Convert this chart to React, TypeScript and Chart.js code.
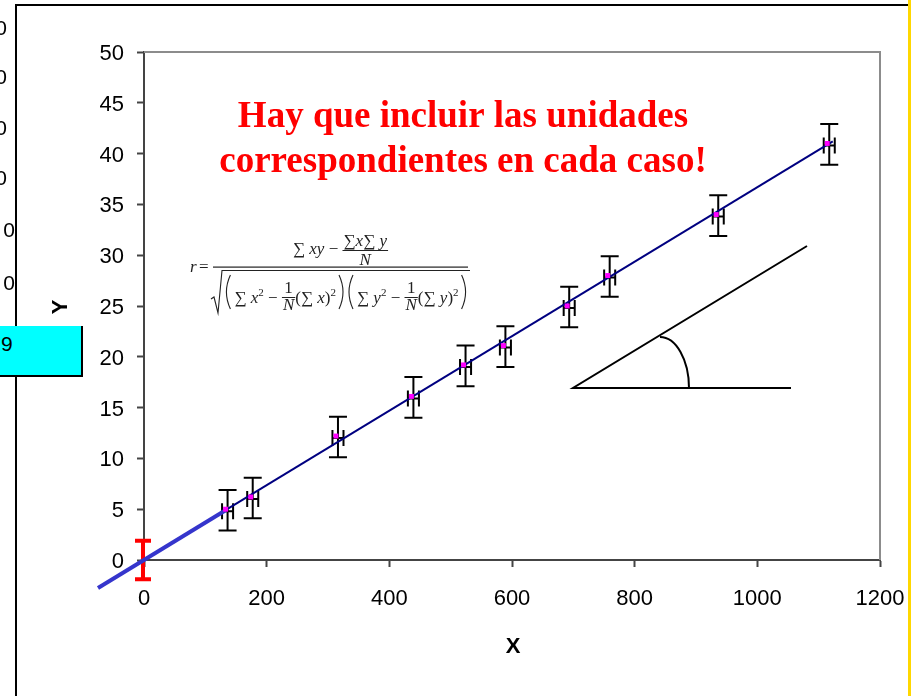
import React, { useEffect, useRef } from 'react';
import { Chart, registerables } from 'chart.js';

Chart.register(...registerables);

// ---- data ----
const xValues = [133, 174, 313, 436, 521, 586, 690, 756, 933, 1114];
const yValues = [5.0, 6.2, 12.2, 16.1, 19.2, 21.1, 25.0, 28.0, 34.0, 41.0];
const xErrors = [9, 9, 9, 9, 9, 9, 9, 9, 9, 9];
const yErrors = [2, 2, 2, 2, 2, 2, 2, 2, 2, 2];
const fitX = [133, 1123];
const fitY = [4.9, 41.2];
const extX = [-75, 133];
const extY = [-2.75, 4.9];
const originX = [0];
const originY = [0];
const originErr = [1.9];
const xMin = 0, xMax = 1200, xStep = 200;
const yMin = 0, yMax = 50, yStep = 5;
const titleLines = ['Hay que incluir las unidades', 'correspondientes en cada caso!'];
const xTitle = 'X';
const yTitle = 'Y';
const cellTexts = ['0', '0', '0', '0', '0', '0'];
const cellHighlight = '9';

// ---- layout constants ----
const W = 911, H = 696;
const cellCenters = [28, 77, 128, 178, 230, 283];
const cellRights = [7, 7, 7, 7, 15, 15];

type Seg = {
  t?: string; it?: boolean; sz?: number; dy?: number;
  paren?: '(' | ')'; gap?: number;
  num?: Seg[]; den?: Seg[]; up?: number; down?: number; bar?: number;
};
const FS = 17;
const serif = '"Liberation Serif", "Times New Roman", serif';

function segW(ctx: CanvasRenderingContext2D, s: Seg): number {
  if (s.gap !== undefined) return s.gap;
  if (s.paren) return 8;
  if (s.num) return Math.max(runW(ctx, s.num), runW(ctx, s.den || [])) + 2;
  ctx.font = `${s.it ? 'italic ' : ''}${s.sz || FS}px ${serif}`;
  return ctx.measureText(s.t || '').width;
}
function runW(ctx: CanvasRenderingContext2D, segs: Seg[]): number {
  return segs.reduce((a, s) => a + segW(ctx, s), 0);
}
function drawRun(ctx: CanvasRenderingContext2D, segs: Seg[], x: number, base: number) {
  for (const s of segs) {
    const w = segW(ctx, s);
    if (s.paren) {
      ctx.beginPath();
      if (s.paren === '(') {
        ctx.moveTo(x + 7, base - 28);
        ctx.quadraticCurveTo(x - 1, base - 11, x + 7, base + 6);
      } else {
        ctx.moveTo(x + 1, base - 28);
        ctx.quadraticCurveTo(x + 9, base - 11, x + 1, base + 6);
      }
      ctx.stroke();
    } else if (s.num) {
      const nw = runW(ctx, s.num);
      const dw = runW(ctx, s.den || []);
      drawRun(ctx, s.num, x + (w - nw) / 2, base - (s.up || 9));
      drawRun(ctx, s.den || [], x + (w - dw) / 2, base + (s.down || 9));
      ctx.fillRect(x, base - (s.bar || 5), w, 1);
    } else if (s.t) {
      ctx.font = `${s.it ? 'italic ' : ''}${s.sz || FS}px ${serif}`;
      ctx.fillText(s.t, x, base + (s.dy || 0));
    }
    x += w;
  }
}

const sup2: Seg = { t: '2', sz: 11, dy: -7 };
const oneOverN: Seg = { num: [{ t: '1' }], den: [{ t: 'N', it: true }], up: 10, down: 7, bar: 6 };
const numerSegs: Seg[] = [
  { t: '∑ ' }, { t: 'xy', it: true }, { t: ' − ' },
  { num: [{ t: '∑' }, { t: 'x', it: true }, { t: '∑' }, { t: ' y', it: true }], den: [{ t: 'N', it: true }], up: 8, down: 11, bar: 4 },
];
const denomSegs: Seg[] = [
  { paren: '(' }, { gap: 3 }, { t: '∑ ' }, { t: 'x', it: true }, sup2, { t: ' − ' }, oneOverN,
  { t: '(∑ ' }, { t: 'x', it: true }, { t: ')' }, sup2, { gap: 2 }, { paren: ')' },
  { paren: '(' }, { gap: 3 }, { t: '∑ ' }, { t: 'y', it: true }, sup2, { t: ' − ' }, oneOverN,
  { t: '(∑ ' }, { t: 'y', it: true }, { t: ')' }, sup2, { gap: 2 }, { paren: ')' },
];

const decorPlugin = {
  id: 'decor',
  beforeDatasetsDraw(chart: any) {
    const ctx: CanvasRenderingContext2D = chart.ctx;
    const xs = chart.scales.x, ys = chart.scales.y;
    ctx.save();
    ctx.strokeStyle = '#000';
    ctx.lineWidth = 2;
    xValues.forEach((xv, i) => {
      const cx = xs.getPixelForValue(xv) + 2;
      const cy = ys.getPixelForValue(yValues[i]) + 2;
      const yTop = ys.getPixelForValue(yValues[i] + yErrors[i]) + 1;
      const yBot = ys.getPixelForValue(yValues[i] - yErrors[i]) + 1;
      const xL = xs.getPixelForValue(xv - xErrors[i]) + 2;
      const xR = xs.getPixelForValue(xv + xErrors[i]) + 2;
      ctx.beginPath();
      ctx.moveTo(cx, yTop); ctx.lineTo(cx, yBot);
      ctx.moveTo(cx - 9, yTop); ctx.lineTo(cx + 9, yTop);
      ctx.moveTo(cx - 9, yBot); ctx.lineTo(cx + 9, yBot);
      ctx.moveTo(xL, cy); ctx.lineTo(xR, cy);
      ctx.moveTo(xL, cy - 8); ctx.lineTo(xL, cy + 8);
      ctx.moveTo(xR, cy - 8); ctx.lineTo(xR, cy + 8);
      ctx.stroke();
    });
    // red origin error bar
    ctx.strokeStyle = '#ff0000';
    ctx.lineWidth = 4;
    originX.forEach((xv, i) => {
      const cx = xs.getPixelForValue(xv) - 1;
      const yT = ys.getPixelForValue(originY[i] + originErr[i]);
      const yB = ys.getPixelForValue(originY[i] - originErr[i]);
      ctx.beginPath();
      ctx.moveTo(cx, yT); ctx.lineTo(cx, yB);
      ctx.moveTo(cx - 8, yT); ctx.lineTo(cx + 8, yT);
      ctx.moveTo(cx - 8, yB); ctx.lineTo(cx + 8, yB);
      ctx.stroke();
    });
    ctx.restore();
  },
  afterDraw(chart: any) {
    const ctx: CanvasRenderingContext2D = chart.ctx;
    const a = chart.chartArea;
    ctx.save();
    // plot-area top/right border
    ctx.strokeStyle = '#8c8c8c';
    ctx.lineWidth = 2;
    ctx.beginPath();
    ctx.moveTo(a.left, a.top); ctx.lineTo(a.right, a.top); ctx.lineTo(a.right, a.bottom);
    ctx.stroke();
    // outer frame
    ctx.fillStyle = '#000';
    ctx.fillRect(15, 4, 893, 2);
    ctx.fillRect(15, 4, 2, H - 4);
    ctx.fillStyle = '#ffd700';
    ctx.fillRect(908, 0, 3, H);
    // axis titles
    ctx.fillStyle = '#000';
    ctx.font = 'bold 22px "Liberation Sans", Arial, sans-serif';
    ctx.textAlign = 'center';
    ctx.textBaseline = 'middle';
    ctx.fillText(xTitle, 513, 647);
    ctx.save();
    ctx.translate(61, 307);
    ctx.rotate(-Math.PI / 2);
    ctx.fillText(yTitle, 0, 0);
    ctx.restore();
    // red note
    ctx.fillStyle = '#ff0000';
    ctx.font = `bold 37px ${serif}`;
    ctx.textBaseline = 'alphabetic';
    ctx.fillText(titleLines[0], 463, 127);
    ctx.fillText(titleLines[1], 463, 172);
    // triangle
    ctx.strokeStyle = '#000';
    ctx.lineWidth = 2;
    ctx.beginPath();
    ctx.moveTo(807, 246); ctx.lineTo(573, 388); ctx.lineTo(791, 388);
    ctx.stroke();
    ctx.beginPath();
    ctx.ellipse(660, 388, 29, 51, 0, -Math.PI / 2, 0);
    ctx.stroke();
    // formula
    ctx.fillStyle = '#222';
    ctx.strokeStyle = '#222';
    ctx.lineWidth = 1.1;
    ctx.textAlign = 'left';
    ctx.font = `italic ${FS}px ${serif}`;
    ctx.fillText('r', 190, 272);
    ctx.font = `${FS}px ${serif}`;
    ctx.fillText('=', 199, 272);
    ctx.fillRect(213, 266.5, 255, 1.2);
    const nW = runW(ctx, numerSegs);
    drawRun(ctx, numerSegs, 340.5 - nW / 2, 254);
    const dW = runW(ctx, denomSegs);
    drawRun(ctx, denomSegs, 346 - dW / 2, 303);
    ctx.beginPath();
    ctx.moveTo(211, 299); ctx.lineTo(214, 297); ctx.lineTo(218, 313); ctx.lineTo(222, 270.5); ctx.lineTo(470, 270.5);
    ctx.stroke();
    ctx.restore();
  },
};

export default function App() {
  const ref = useRef<HTMLCanvasElement>(null);
  useEffect(() => {
    const tickFont = { family: '"Liberation Sans", Arial, sans-serif', size: 22 };
    const chart = new Chart(ref.current as HTMLCanvasElement, {
      type: 'scatter',
      data: {
        datasets: [
          {
            label: 'data',
            data: xValues.map((x, i) => ({ x, y: yValues[i] })),
            pointStyle: 'rect',
            pointRadius: 3.5,
            backgroundColor: '#ff00ff',
            borderWidth: 0,
            showLine: false,
          } as any,
          {
            label: 'fit',
            data: fitX.map((x, i) => ({ x, y: fitY[i] })),
            showLine: true,
            borderColor: '#000080',
            borderWidth: 2,
            pointRadius: 0,
          } as any,
          {
            label: 'ext',
            data: extX.map((x, i) => ({ x, y: extY[i] })),
            showLine: true,
            borderColor: '#3535cc',
            borderWidth: 4,
            pointRadius: 0,
            clip: false,
          } as any,
        ],
      },
      options: {
        animation: false,
        responsive: false,
        devicePixelRatio: 1,
        layout: { padding: { left: 0, top: 52, right: 31, bottom: 0 } },
        plugins: { legend: { display: false }, tooltip: { enabled: false } },
        scales: {
          x: {
            type: 'linear',
            min: xMin, max: xMax,
            ticks: { stepSize: xStep, color: '#000', font: tickFont, padding: 19, maxRotation: 0, callback: (v: any) => String(v) },
            grid: { drawOnChartArea: false, drawTicks: true, tickLength: 7, color: '#444', tickColor: '#444', tickWidth: 2 },
            border: { display: true, color: '#444', width: 2 },
            afterFit: (s: any) => { s.height = H - 560; s.paddingLeft = 0; s.paddingRight = 0; },
          },
          y: {
            type: 'linear',
            min: yMin, max: yMax,
            ticks: { stepSize: yStep, color: '#000', font: tickFont, padding: 13, labelOffset: 2, callback: (v: any) => String(v) },
            grid: { drawOnChartArea: false, drawTicks: true, tickLength: 7, color: '#444', tickColor: '#444', tickWidth: 2 },
            border: { display: true, color: '#444', width: 2 },
            afterFit: (s: any) => { s.width = 144; s.paddingTop = 0; s.paddingBottom = 0; },
          },
        },
      } as any,
      plugins: [decorPlugin as any],
    });
    return () => chart.destroy();
  }, []);

  const cellFont = '21px "Liberation Sans", Arial, sans-serif';
  return (
    <div style={{ position: 'fixed', left: 0, top: 0, width: W, height: H, overflow: 'hidden', background: '#fff' }}>
      <canvas ref={ref} width={W} height={H} style={{ position: 'absolute', left: 0, top: 0, width: W, height: H }} />
      {cellTexts.map((t, i) => (
        <div key={i} style={{ position: 'absolute', left: cellRights[i] - 100, width: 100, top: cellCenters[i] - 12, height: 24, lineHeight: '24px', textAlign: 'right', font: cellFont, color: '#000' }}>{t}</div>
      ))}
      <div style={{ position: 'absolute', left: 0, top: 326, width: 81, height: 49, background: '#00ffff', borderRight: '2px solid #000', borderBottom: '2px solid #000' }}>
        <div style={{ position: 'absolute', left: 1, top: 6, lineHeight: '24px', font: cellFont, color: '#000' }}>{cellHighlight}</div>
      </div>
    </div>
  );
}
